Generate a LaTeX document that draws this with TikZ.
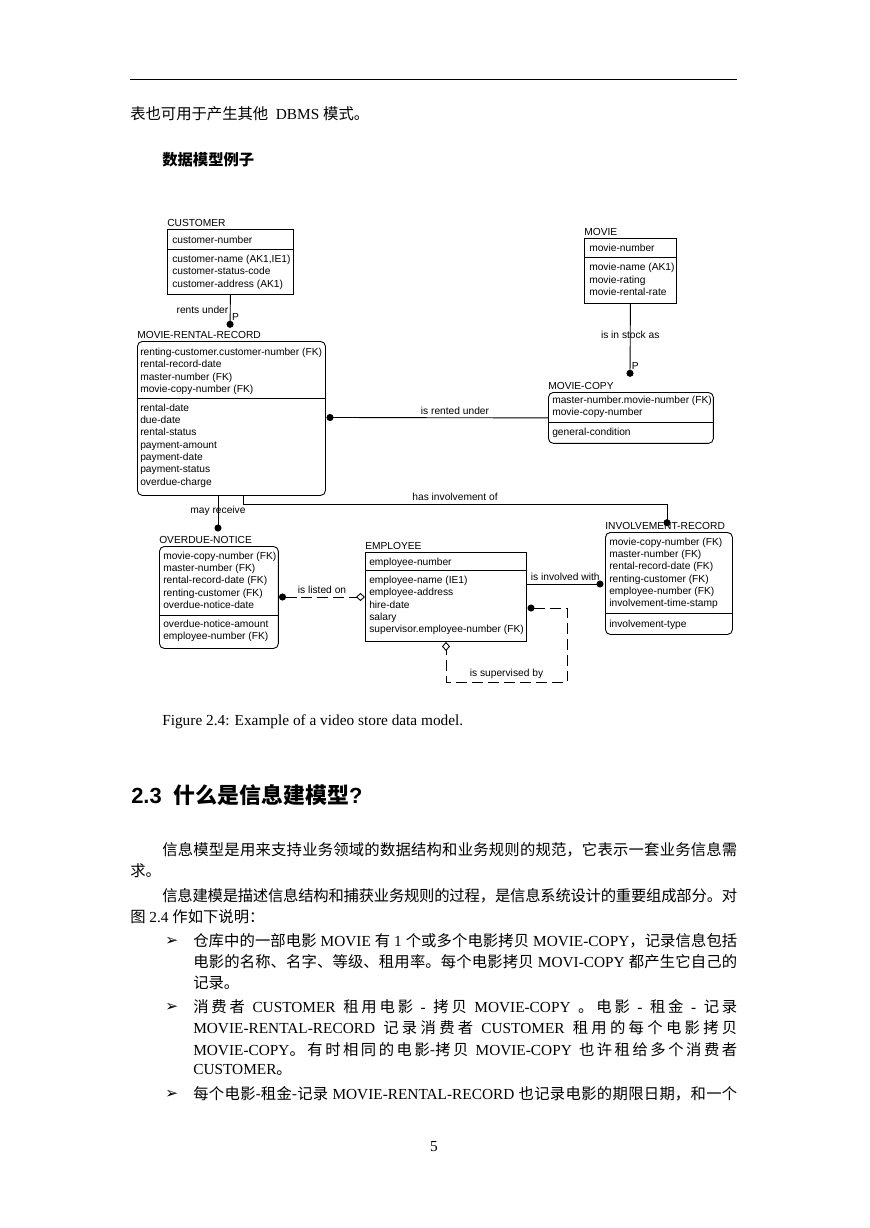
\documentclass[tikz,border=0pt]{standalone}
\usepackage{fontspec}
\setmainfont{Liberation Serif}
\newfontfamily\cjk{Noto Sans CJK SC}
\newfontfamily\ersans{Liberation Sans}
\newfontfamily\dingfont{DejaVu Sans}
\usepackage{tikz}
\usetikzlibrary{positioning,arrows.meta}

\newdimen\pxu
\pxu=0.685pt
\hbadness=10000
% one justified line of the page text
\newcommand\fline[2]{\parbox{#1\pxu}{\XeTeXlinebreaklocale "zh"\XeTeXlinebreakskip=0pt plus 1pt minus 0.25pt\relax
  \tolerance=10000\parfillskip=0pt\noindent #2}}

\begin{document}
\begin{tikzpicture}[
  x=\pxu, y=-\pxu,
  ent/.style={
    draw,
    line width=0.6pt,
    inner sep=0pt,
    anchor=north west
  },
  rent/.style={ent, rounded corners=3.4pt},
  etitle/.style={font=\ersans\fontsize{7}{8.45}\selectfont, inner sep=0pt},
  attr/.style={font=\ersans\fontsize{7}{8.45}\selectfont, inner sep=0pt, align=left, anchor=base west},
  rel/.style={line width=0.6pt},
  drel/.style={rel, dash pattern=on 7.5pt off 3.4pt},
  lab/.style={font=\ersans\fontsize{7}{8.45}\selectfont, inner sep=1pt},
  erdot/.tip={Circle[length=4.8pt]},
  erdiamond/.tip={Diamond[open, length=6.2pt, width=5.5pt]},
  body/.style={font=\fontsize{10.5}{13}\selectfont, inner sep=0pt, anchor=west},
  bul/.style={font=\dingfont\fontsize{10.5}{13}\selectfont, inner sep=0pt, anchor=west},
  head/.style={font=\ersans\bfseries\fontsize{15}{18}\selectfont, inner sep=0pt, anchor=west}
]
  \fill[white] (0,0) rectangle (869,1228);

  % page text above the figure
  \draw[line width=0.6pt] (130,79) -- (737,79);
  \node[body] (lead) at (130,114) {{\cjk 表也可用于产生其他}\ \ DBMS {\cjk 模式。}};
  \node[body] (examplehead) at (162,160) {\cjk\bfseries 数据模型例子};

  % entities (attribute blocks sit on the baseline of their last line)
  \node[ent, minimum width=86.3pt, minimum height=44.5pt] (customer) at (167,229) {};
  \node[etitle, above right=1.7pt and 0pt of customer.north west] (customertitle) {CUSTOMER};
  \node[attr] (customerkey) at (172,243.5) {customer-number};
  \node[attr] (customerattr) at (172,287.2) {customer-name (AK1,IE1)\\customer-status-code\\customer-address (AK1)};
  \draw[rel] (167,249) -- (293,249);

  \node[ent, minimum width=63pt, minimum height=44.5pt] (movie) at (584,238) {};
  \node[etitle, above right=1.7pt and 0pt of movie.north west] (movietitle) {MOVIE};
  \node[attr] (moviekey) at (589,251.5) {movie-number};
  \node[attr] (movieattr) at (589,295.5) {movie-name (AK1)\\movie-rating\\movie-rental-rate};
  \draw[rel] (584,257.3) -- (676,257.3);

  \node[rent, minimum width=128.8pt, minimum height=105.5pt] (mrr) at (137,341) {};
  \node[etitle, above right=1.7pt and 0pt of mrr.north west] (mrrtitle) {MOVIE-RENTAL-RECORD};
  \node[attr] (mrrkey) at (140,392.5) {renting-customer.customer-number (FK)\\rental-record-date\\master-number (FK)\\movie-copy-number (FK)};
  \node[attr] (mrrattr) at (140,485.2) {rental-date\\due-date\\rental-status\\payment-amount\\payment-date\\payment-status\\overdue-charge};
  \draw[rel] (137,398.7) -- (325,398.7);

  \node[rent, minimum width=113pt, minimum height=34.9pt] (mcopy) at (548,392) {};
  \node[etitle, above right=1.7pt and 0pt of mcopy.north west] (mcopytitle) {MOVIE-COPY};
  \node[attr] (mcopykey) at (552,415.8) {master-number.movie-number (FK)\\movie-copy-number};
  \node[attr] (mcopyattr) at (552,435.2) {general-condition};
  \draw[rel] (548,422.3) -- (713,422.3);

  \node[rent, minimum width=81.5pt, minimum height=69.9pt] (notice) at (159,546) {};
  \node[etitle, above right=1.7pt and 0pt of notice.north west] (noticetitle) {OVERDUE-NOTICE};
  \node[attr] (noticekey) at (163,608.5) {movie-copy-number (FK)\\master-number (FK)\\rental-record-date (FK)\\renting-customer (FK)\\overdue-notice-date};
  \node[attr] (noticeattr) at (163,639.8) {overdue-notice-amount\\employee-number (FK)};
  \draw[rel] (159,615) -- (278,615);

  \node[ent, minimum width=110.3pt, minimum height=61pt] (employee) at (365,552) {};
  \node[etitle, above right=1.7pt and 0pt of employee.north west] (employeetitle) {EMPLOYEE};
  \node[attr] (employeekey) at (369,565.2) {employee-number};
  \node[attr] (employeeattr) at (369,632.8) {employee-name (IE1)\\employee-address\\hire-date\\salary\\supervisor.employee-number (FK)};
  \draw[rel] (365,570) -- (526,570);

  \node[rent, minimum width=87pt, minimum height=69.9pt] (involve) at (605,532) {};
  \node[etitle, above right=1.7pt and 0pt of involve.north west] (involvetitle) {INVOLVEMENT-RECORD};
  \node[attr] (involvekey) at (609,606.9) {movie-copy-number (FK)\\master-number (FK)\\rental-record-date (FK)\\renting-customer (FK)\\employee-number (FK)\\involvement-time-stamp};
  \node[attr] (involveattr) at (609,627.5) {involvement-type};
  \draw[rel] (605,613.3) -- (732,613.3);

  % relationships
  \coordinate (rentsdot) at (230,327.8);
  \coordinate (stockdot) at (630,376.8);
  \coordinate (rentedot) at (326.5,417.5);
  \coordinate (receivedot) at (218,531.5);
  \coordinate (hasinv) at (243,504);
  \coordinate (invdot) at (667,526.2);
  \coordinate (listedot) at (279,597);
  \coordinate (withdot) at (603.5,584);
  \coordinate (superdot) at (527.5,608);
  \coordinate (superloop) at (567,682);
  \coordinate (superfoot) at (446,682);

  \draw[rel, -erdot] (customer.south) -- node[lab, left, pos=0.47]{rents under} node[lab, right, pos=0.66]{P} (rentsdot);
  \draw[rel, -erdot] (movie.south) -- node[lab, pos=0.43]{is in stock as} node[lab, right, pos=0.85]{P} (stockdot);
  \draw[rel, -erdot] (mcopy.west) -- node[lab, above=0.8pt, pos=0.42]{is rented under} (rentedot);
  \draw[rel, -erdot] (mrr.south -| receivedot) -- node[lab, pos=0.41]{may receive} (receivedot);
  \draw[rel, -erdot] (mrr.south -| hasinv) -- (hasinv) -- node[lab, above=0.8pt]{has involvement of} (hasinv -| invdot) -- (invdot);
  \draw[drel, erdot-erdiamond] (listedot) -- node[lab, above=0.8pt]{is listed on} (employee.west |- listedot);
  \draw[rel, -erdot] (employee.east |- withdot) -- node[lab, above=0.8pt]{is involved with} (withdot);
  \draw[drel, erdot-erdiamond] (superdot) -| (superloop) -- node[lab, above=0.8pt]{is supervised by} (superfoot) -- (employee.south -| superfoot);

  % caption and text below the figure
  \node[body] (caption) at (162,722) {Figure 2.4: Example of a video store data model.};
  \node[head] (sechead) at (131,795) {2.3\ \ {\cjk 什么是信息建模型}?};

  \node[body] (p1a) at (162,850) {\fline{575}{\cjk 信息模型是用来支持业务领域的数据结构和业务规则的规范，它表示一套业务信息需}};
  \node[body] (p1b) at (130,871) {\cjk 求。};
  \node[body] (p2a) at (162,896) {\fline{575}{\cjk 信息建模是描述信息结构和捕获业务规则的过程，是信息系统设计的重要组成部分。对}};
  \node[body] (p2b) at (130,917) {{\cjk 图} 2.4 {\cjk 作如下说明：}};

  \node[bul] (bullet1) at (165,941) {➢};
  \node[body] (b1a) at (193,941) {\fline{544}{{\cjk 仓库中的一部电影} MOVIE {\cjk 有} 1 {\cjk 个或多个电影拷贝} MOVIE-COPY{\cjk ，记录信息包括}}};
  \node[body] (b1b) at (193,962) {\fline{544}{{\cjk 电影的名称、名字、等级、租用率。每个电影拷贝} MOVI-COPY {\cjk 都产生它自己的}}};
  \node[body] (b1c) at (193,983) {\cjk 记录。};

  \node[bul] (bullet2) at (165,1007) {➢};
  \node[body] (b2a) at (193,1007) {\fline{544}{{\cjk 消费者} CUSTOMER {\cjk 租用电影} - {\cjk 拷贝} MOVIE-COPY {\cjk 。电影} - {\cjk 租金} - {\cjk 记录}}};
  \node[body] (b2b) at (193,1028) {\fline{544}{MOVIE-RENTAL-RECORD {\cjk 记录消费者} CUSTOMER {\cjk 租用的每个电影拷贝}}};
  \node[body] (b2c) at (193,1050) {\fline{544}{MOVIE-COPY{\cjk 。有时相同的电影-拷贝} MOVIE-COPY {\cjk 也许租给多个消费者}}};
  \node[body] (b2d) at (193,1070) {CUSTOMER{\cjk 。}};

  \node[bul] (bullet3) at (165,1094) {➢};
  \node[body] (b3a) at (193,1094) {\fline{544}{{\cjk 每个电影-租金-记录} MOVIE-RENTAL-RECORD {\cjk 也记录电影的期限日期，和一个}}};

  \node[body, anchor=center] (pagenum) at (434,1147) {5};
\end{tikzpicture}
\end{document}
